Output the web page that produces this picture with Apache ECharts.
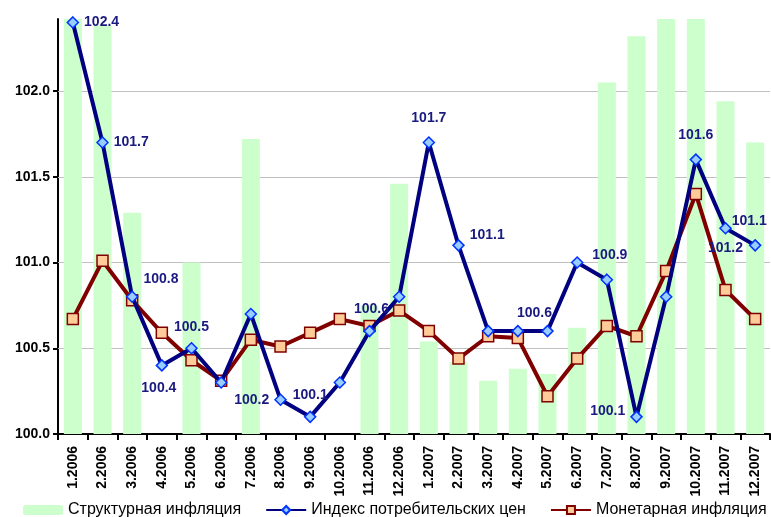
<!DOCTYPE html>
<html>
<head>
<meta charset="utf-8">
<script src="https://cdn.jsdelivr.net/npm/echarts@6/dist/echarts.min.js"></script>
<style>
  html, body { margin: 0; padding: 0; background: #fff; }
  #chart { width: 771px; height: 517px; }
</style>
</head>
<body>
<div id="chart"></div>
<script>
var months = ['1.2006', '2.2006', '3.2006', '4.2006', '5.2006', '6.2006', '7.2006', '8.2006',
    '9.2006', '10.2006', '11.2006', '12.2006', '1.2007', '2.2007', '3.2007', '4.2007',
    '5.2007', '6.2007', '7.2007', '8.2007', '9.2007', '10.2007', '11.2007', '12.2007'];

// Структурная инфляция (bars, tops past the axis are cut off)
var structural = [102.5, 102.38, 101.29, null, 101.0, null, 101.72, null, null, null, 100.75, 101.46,
    100.54, 100.42, 100.31, 100.38, 100.35, 100.62, 102.05, 102.32, 102.5, 102.5, 101.94, 101.70];

// Индекс потребительских цен
var cpi = [102.4, 101.7, 100.8, 100.4, 100.5, 100.3, 100.7, 100.2, 100.1, 100.3, 100.6, 100.8,
    101.7, 101.1, 100.6, 100.6, 100.6, 101.0, 100.9, 100.1, 100.8, 101.6, 101.2, 101.1];

// Монетарная инфляция
var monetary = [100.67, 101.01, 100.78, 100.59, 100.43, 100.31, 100.55, 100.51, 100.59, 100.67, 100.63, 100.72,
    100.60, 100.44, 100.57, 100.56, 100.22, 100.44, 100.63, 100.57, 100.95, 101.40, 100.84, 100.67];

var yTicks = [100, 100.5, 101, 101.5, 102];

// which cpi points carry a label, and where it sits
var labelPlace = {
    0: {position: 'right'},
    1: {position: 'right'},
    2: {position: 'right', offset: [0, -18]},
    3: {position: 'bottom', offset: [-3, 4]},
    4: {position: 'top', offset: [0, -3]},
    7: {position: 'left'},
    8: {position: 'top', offset: [0, -3]},
    10: {position: 'top', offset: [2, -4]},
    12: {position: 'top', offset: [0, -6]},
    13: {position: 'right', offset: [0, -10]},
    16: {position: 'top', offset: [-13, 0]},
    18: {position: 'top', offset: [3, -6]},
    19: {position: 'left', offset: [0, -6]},
    21: {position: 'top', offset: [0, -6]},
    22: {position: 'bottom', offset: [0, 2]},
    23: {position: 'top', offset: [-6, -6]}
};

var cpiData = cpi.map(function (v, i) {
    var item = {value: v};
    if (labelPlace[i]) {
        item.label = {show: true, position: labelPlace[i].position, offset: labelPlace[i].offset || [0, 0]};
    }
    return item;
});

var font = '"Liberation Sans", Arial, sans-serif';

var myChart = echarts.init(document.getElementById('chart'));
var option = {
    animation: false,
    textStyle: {fontFamily: font},
    grid: {left: 58, right: 1, top: 19, bottom: 83, containLabel: false},
    legend: {
        data: ['Структурная инфляция', 'Индекс потребительских цен', 'Монетарная инфляция'],
        bottom: -1,
        left: 23,
        width: 760,
        padding: 0,
        itemWidth: 40,
        itemHeight: 10,
        itemGap: 24,
        textStyle: {fontSize: 16, color: '#000', fontFamily: font}
    },
    xAxis: {
        type: 'category',
        data: months,
        boundaryGap: true,
        axisLine: {lineStyle: {color: '#000', width: 2}},
        axisTick: {show: true, length: 6, lineStyle: {color: '#000', width: 2}},
        axisLabel: {rotate: 90, fontSize: 14, fontWeight: 'bold', color: '#000', margin: 12, interval: 0, fontFamily: font},
        splitLine: {show: false}
    },
    yAxis: {
        type: 'value',
        min: 100,
        max: 102.42,
        interval: 0.5,
        axisLine: {show: true, lineStyle: {color: '#000', width: 2}},
        axisTick: {show: true, length: 5, customValues: yTicks, lineStyle: {color: '#000', width: 2}},
        axisLabel: {
            fontSize: 14, fontWeight: 'bold', color: '#000', margin: 8, fontFamily: font,
            customValues: yTicks,
            formatter: function (v) { return v.toFixed(1); }
        },
        splitLine: {show: false}
    },
    series: [
        {
            name: 'Структурная инфляция',
            type: 'bar',
            data: structural,
            barWidth: 18,
            z: 2,
            itemStyle: {color: '#ccffcc'},
            markLine: {
                silent: true,
                z: 1,
                symbol: 'none',
                label: {show: false},
                lineStyle: {color: '#c0c0c0', width: 1, type: 'solid'},
                data: yTicks.slice(1).map(function (t) { return {yAxis: t}; })
            }
        },
        {
            name: 'Индекс потребительских цен',
            type: 'line',
            data: cpiData,
            z: 4,
            symbol: 'diamond',
            symbolSize: 11,
            lineStyle: {color: '#000080', width: 4},
            itemStyle: {color: '#99ccff', borderColor: '#0033ff', borderWidth: 1.5},
            label: {
                show: false,
                fontSize: 14,
                fontWeight: 'bold',
                color: '#1a1a80',
                fontFamily: font,
                formatter: function (p) { return p.value.toFixed(1); }
            }
        },
        {
            name: 'Монетарная инфляция',
            type: 'line',
            data: monetary,
            z: 3,
            symbol: 'rect',
            symbolSize: 11,
            lineStyle: {color: '#800000', width: 4},
            itemStyle: {color: '#ffcc99', borderColor: '#800000', borderWidth: 1.5}
        }
    ]
};
myChart.setOption(option);
</script>
</body>
</html>
